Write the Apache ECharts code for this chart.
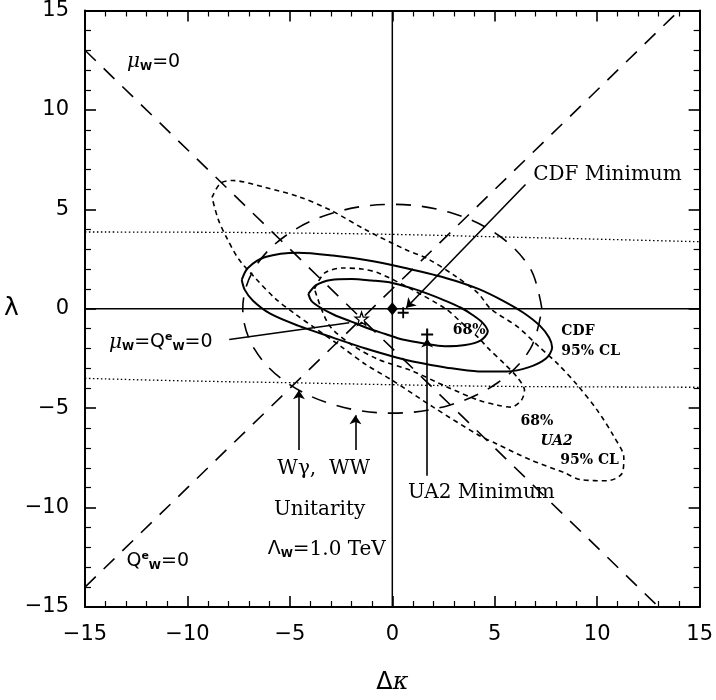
<!DOCTYPE html>
<html>
<head>
<meta charset="utf-8">
<script src="https://cdn.jsdelivr.net/npm/echarts@6/dist/echarts.min.js"></script>
<style>
html,body{margin:0;padding:0;background:#fff;}
#chart{width:716px;height:700px;}
</style>
</head>
<body>
<div id="chart"></div>
<script>
// ---- axis ranges / ticks ----
const xTicks = [-15, -10, -5, 0, 5, 10, 15];
const yTicks = [-15, -10, -5, 0, 5, 10, 15];

// ---- straight constraint lines (dashed) ----
const muW0Line = [[-15, 13], [13, -15]];
const qW0Line = [[-15, -14], [14, 15]];

// ---- unitarity bounds (dotted) ----
const unitarityUpper = [[-15, 3.86], [-10, 3.85], [-5, 3.81], [0, 3.74], [5, 3.62], [10, 3.5], [15, 3.37]];
const unitarityLower = [[-15, -3.5], [-10, -3.63], [-5, -3.72], [0, -3.82], [5, -3.9], [10, -3.93], [15, -3.95]];

// ---- Wγ / WW unitarity ellipse (long dashed) ----
const unitarityEllipse = [
  [7.3, 0], [6.74, 2.01], [5.16, 3.71], [2.79, 4.85], [0, 5.25], [-2.79, 4.85], [-5.16, 3.71],
  [-6.74, 2.01], [-7.3, 0], [-6.74, -2.01], [-5.16, -3.71], [-2.79, -4.85], [0, -5.25],
  [2.79, -4.85], [5.16, -3.71], [6.74, -2.01], [7.3, 0]
];

// ---- CDF contours (solid) ----
const cdf68 = [
  [-4.1, 0.75], [-3.7, 1.2], [-3.0, 1.45], [-2.0, 1.5], [-1.0, 1.42], [0, 1.3], [0.9, 1.05],
  [1.75, 0.75], [2.6, 0.4], [3.35, 0.05], [3.9, -0.3], [4.4, -0.7], [4.66, -1.15], [4.3, -1.6],
  [3.56, -1.82], [2.56, -1.88], [1.56, -1.75], [0.5, -1.55], [-0.34, -1.27], [-1.2, -0.98],
  [-2.0, -0.65], [-2.85, -0.3], [-3.5, 0.05], [-3.95, 0.4], [-4.1, 0.75]
];
const cdf95 = [
  [-7.35, 1.45], [-7.05, 2.05], [-6.2, 2.6], [-4.6, 2.82], [-2.9, 2.68], [-1.3, 2.45], [0.3, 2.12],
  [2.6, 1.55], [4.2, 1.0], [5.5, 0.35], [6.4, -0.2], [7.2, -0.85], [7.65, -1.45], [7.8, -1.95],
  [7.5, -2.5], [6.64, -2.95], [5.6, -3.15], [4.2, -3.15], [2.6, -2.95], [1.0, -2.65], [0.2, -2.45],
  [-1.3, -2.0], [-2.9, -1.45], [-4.6, -0.85], [-5.96, -0.25], [-6.8, 0.4], [-7.2, 0.95], [-7.35, 1.45]
];

// ---- UA2 contours (short dashed) ----
const ua268 = [
  [-3.8, 1.0], [-3.3, 1.8], [-2.4, 2.05], [-1.5, 2.0], [-0.68, 1.8], [0.9, 1.0], [2.6, 0.0],
  [3.35, -0.67], [4.2, -1.45], [4.66, -1.97], [5.5, -2.8], [6.1, -3.45], [6.45, -4.1],
  [6.3, -4.6], [5.8, -4.95], [5.15, -4.85], [4.2, -4.6], [2.6, -3.9], [0.9, -3.1],
  [-0.68, -2.55], [-2.0, -1.8], [-3.1, -0.8], [-3.8, 1.0]
];
const ua295 = [
  [-8.8, 5.6], [-8.4, 6.3], [-7.8, 6.45], [-6.2, 6.1], [-4.6, 5.65], [-3.0, 4.95], [-1.3, 3.97],
  [0.6, 3.0], [1.75, 2.5], [3.06, 1.65], [4.17, 0.8], [4.8, 0.0], [6.1, -0.9], [7.1, -1.85],
  [8.1, -2.8], [9.0, -3.8], [10.0, -5.1], [10.8, -6.4], [11.3, -7.5], [11.2, -8.3], [10.5, -8.65],
  [9.2, -8.6], [8.4, -8.25], [6.75, -7.6], [5.1, -6.8], [4.2, -6.35], [2.0, -4.95], [0, -3.6],
  [-1.3, -2.8], [-2.5, -1.9], [-3.8, -0.95], [-4.7, -0.3], [-5.7, 0.5], [-6.65, 1.5],
  [-7.5, 2.5], [-8.1, 3.6], [-8.5, 4.5], [-8.8, 5.6]
];

// ---- points ----
const smPoint = [[0, 0]];
const cdfMinimum = [[0.53, -0.2]];
const ua2Minimum = [[1.7, -1.3]];
const zeroMomentsPoint = [[-1.5, -0.5]];

// ---- arrows / pointer lines ----
const cdfArrow = [[6.5, 6.25], [0.68, 0.05]];
const ua2Arrow = [[1.7, -8.4], [1.7, -1.5]];
const wgArrow = [[-4.56, -7.1], [-4.56, -4.1]];
const wwArrow = [[-1.8, -7.1], [-1.8, -5.35]];
const zeroPointer = [[-7.96, -1.55], [-2.1, -0.7]];

// ---- annotations: [rich text, x, y, anchor] ----
const annotations = [
  ['{mu|μ}{sub|W}{t|=0}', -11.65, 12.4, 'center'],
  ['{t|Q}{sup|e}{sub|W}{t|=0}', -11.45, -12.7, 'center'],
  ['{mu|μ}{sub|W}{t|=Q}{sup|e}{sub|W}{t|=0}', -11.3, -1.7, 'center'],
  ['{s|CDF Minimum}', 10.5, 6.75, 'center'],
  ['{s|UA2 Minimum}', 4.35, -9.25, 'center'],
  ['{s|Wγ,  WW}', -3.35, -8.05, 'center'],
  ['{s|Unitarity}', -3.55, -10.1, 'center'],
  ['{t|Λ}{sub|W}{s|=1.0 TeV}', -3.2, -12.1, 'center'],
  ['{b|68%}', 3.75, -1.1, 'center'],
  ['{b|CDF}', 8.25, -1.15, 'left'],
  ['{b|95% CL}', 8.25, -2.15, 'left'],
  ['{b|68%}', 6.26, -5.65, 'left'],
  ['{bi|UA2}', 7.23, -6.65, 'left'],
  ['{b|95% CL}', 8.2, -7.65, 'left']
];

const richStyles = {
  mu: {fontFamily: 'DejaVu Serif', fontStyle: 'italic', fontSize: 20, color: '#000'},
  t: {fontFamily: 'DejaVu Sans', fontSize: 19, color: '#000'},
  sub: {fontFamily: 'DejaVu Sans', fontWeight: 'bold', fontSize: 11, color: '#000', verticalAlign: 'bottom', padding: [10, 0, 0, 0]},
  sup: {fontFamily: 'DejaVu Sans', fontWeight: 'bold', fontSize: 11, color: '#000', verticalAlign: 'top', padding: [0, 0, 10, 0]},
  s: {fontFamily: 'DejaVu Serif', fontSize: 20, color: '#000'},
  b: {fontFamily: 'DejaVu Serif', fontWeight: 'bold', fontSize: 14, color: '#000'},
  bi: {fontFamily: 'DejaVu Serif', fontWeight: 'bold', fontStyle: 'italic', fontSize: 14, color: '#000'}
};

const minus = v => String(v).replace('-', '\u2212');

function axisCommon(pos, showLabel) {
  return {
    type: 'value', min: xTicks[0], max: xTicks[xTicks.length - 1], interval: 5, position: pos,
    axisLine: {show: true, onZero: false, lineStyle: {color: '#000', width: 2}},
    axisTick: {show: true, inside: true, length: 11, lineStyle: {color: '#000', width: 1.6}},
    minorTick: {show: true, splitNumber: 5, length: 6, lineStyle: {color: '#000', width: 1.2}},
    splitLine: {show: false}, minorSplitLine: {show: false},
    axisLabel: {show: showLabel, color: '#000', fontFamily: 'DejaVu Sans', fontSize: 21, formatter: minus}
  };
}

const xBottom = Object.assign(axisCommon('bottom', true), {
  name: '{a|Δ}{b|κ}', nameLocation: 'middle', nameGap: 64,
  nameTextStyle: {rich: {a: {fontFamily: 'DejaVu Sans', fontSize: 24, color: '#000'}, b: {fontFamily: 'DejaVu Serif', fontStyle: 'italic', fontSize: 24, color: '#000'}}}
});
xBottom.axisLabel.margin = 17;
const xTop = axisCommon('top', false);
const yLeft = Object.assign(axisCommon('left', true), {
  min: yTicks[0], max: yTicks[yTicks.length - 1],
  name: 'λ', nameLocation: 'middle', nameRotate: 0, nameGap: 65,
  nameTextStyle: {fontFamily: 'DejaVu Sans', fontSize: 25, color: '#000'}
});
yLeft.axisLabel.margin = 16;
const yRight = Object.assign(axisCommon('right', false), {min: yTicks[0], max: yTicks[yTicks.length - 1]});

function curve(data, type, width, smooth) {
  return {
    type: 'line', data: data, showSymbol: false, symbol: 'none', smooth: smooth, silent: true,
    lineStyle: {color: '#000', width: width, type: type, opacity: 1}, z: 3, animation: false
  };
}
function arrow(coords, head) {
  return {
    type: 'lines', coordinateSystem: 'cartesian2d', silent: true, animation: false,
    symbol: ['none', head ? 'arrow' : 'none'], symbolSize: 9,
    lineStyle: {color: '#000', width: 1.6, opacity: 1, curveness: 0},
    data: [{coords: coords}], z: 4
  };
}
function points(data, symbol, size, style) {
  return {type: 'scatter', data: data, symbol: symbol, symbolSize: size,
    itemStyle: Object.assign({color: '#000', opacity: 1}, style || {}), z: 5, silent: true, animation: false};
}

const plusPath = 'path://M-1,-6 h2 v5 h5 v2 h-5 v5 h-2 v-5 h-5 v-2 h5 z';
const starPath = 'path://M0,-10 L2.35,-3.24 L9.51,-3.09 L3.8,1.24 L5.88,8.09 L0,4 L-5.88,8.09 L-3.8,1.24 L-9.51,-3.09 L-2.35,-3.24 Z';

const series = [
  curve([[0, yTicks[0]], [0, yTicks[yTicks.length - 1]]], 'solid', 1.5, false),
  curve([[xTicks[0], 0], [xTicks[xTicks.length - 1], 0]], 'solid', 1.5, false),
  curve(muW0Line, [15, 11], 1.6, false),
  curve(qW0Line, [15, 11], 1.6, false),
  curve(unitarityUpper, [1.5, 2.5], 1.3, true),
  curve(unitarityLower, [1.5, 2.5], 1.3, true),
  curve(unitarityEllipse, [15, 11], 1.6, 0.35),
  curve(cdf68, 'solid', 2, 0.3),
  curve(cdf95, 'solid', 2, 0.3),
  curve(ua268, [5, 4], 1.6, 0.3),
  curve(ua295, [5, 4], 1.6, 0.3),
  arrow(cdfArrow, true),
  arrow(ua2Arrow, true),
  arrow(wgArrow, true),
  arrow(wwArrow, true),
  arrow(zeroPointer, false),
  points(smPoint, 'diamond', [11, 13]),
  points(cdfMinimum, plusPath, 11),
  points(ua2Minimum, plusPath, 12),
  points(zeroMomentsPoint, starPath, 13, {color: '#fff', borderColor: '#000', borderWidth: 1.3}),
  {
    type: 'scatter', symbolSize: 0, silent: true, z: 6, animation: false,
    itemStyle: {opacity: 1},
    data: annotations.map(a => ({
      value: [a[1], a[2]],
      label: {
        show: true, formatter: a[0], rich: richStyles, color: '#000', opacity: 1, textBorderWidth: 0,
        position: a[3] === 'left' ? 'right' : 'inside', distance: 0,
        align: a[3] === 'left' ? 'left' : 'center', verticalAlign: 'middle'
      }
    }))
  }
];

const chart = echarts.init(document.getElementById('chart'), null, {renderer: 'canvas'});
chart.setOption({
  backgroundColor: '#fff',
  animation: false,
  grid: {left: 85, right: 13, top: 10, bottom: 83, containLabel: false},
  xAxis: [xBottom, xTop],
  yAxis: [yLeft, yRight],
  series: series
});
</script>
</body>
</html>
